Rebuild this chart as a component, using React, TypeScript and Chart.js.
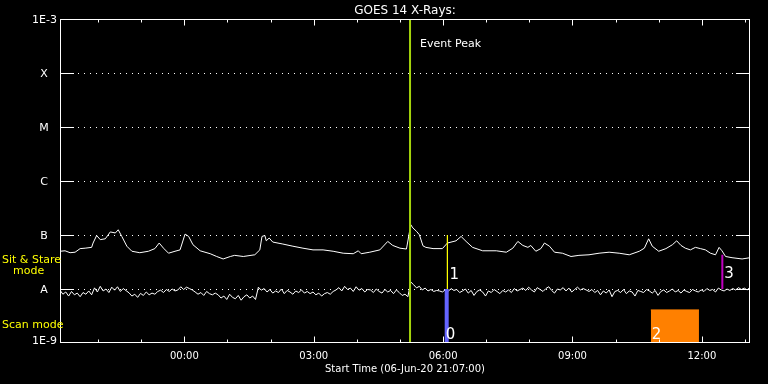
import { useEffect, useRef } from 'react';
import { Chart, registerables } from 'chart.js';

Chart.register(...registerables);

// ---------- data ----------
const TITLE = 'GOES 14 X-Rays:';
const X_AXIS_TITLE = 'Start Time (06-Jun-20 21:07:00)';
const TOTAL_MINUTES = 960; // minutes after 21:07
const MAJOR_TICK_MINUTES = [173, 353, 533, 713, 893];
const MAJOR_TICK_LABELS = ['00:00', '03:00', '06:00', '09:00', '12:00'];
const MINOR_TICK_MINUTES = [53, 113, 233, 293, 413, 473, 593, 653, 773, 833, 953];

const Y_MIN = 1e-9;
const Y_MAX = 1e-3;
const Y_EDGE_LABELS = ['1E-3', '1E-9'];
const FLARE_LEVELS = [1e-4, 1e-5, 1e-6, 1e-7, 1e-8];
const FLARE_LABELS = ['X', 'M', 'C', 'B', 'A'];

// long channel (units of 1e-7 W/m^2)
const LONG_TIMES = [0, 7, 14, 21, 28, 35, 44, 46, 51, 56, 63, 70, 77, 81, 86, 93, 100, 111, 123, 132, 138, 144, 151, 160, 167, 174, 179, 185, 195, 209, 218, 227, 237, 243, 255, 271, 278, 281, 285, 287, 291, 296, 310, 324, 338, 352, 366, 380, 394, 408, 415, 419, 431, 445, 456, 463, 473, 482, 488, 491, 496, 500, 505, 509, 519, 532, 539, 551, 558, 565, 574, 588, 607, 621, 630, 637, 644, 651, 655, 662, 669, 674, 681, 688, 699, 711, 722, 736, 750, 764, 778, 792, 806, 813, 819, 824, 833, 843, 852, 858, 864, 870, 877, 884, 891, 898, 905, 912, 917, 921, 926, 935, 949, 960];
const LONG_FLUX = [0.50, 0.51, 0.47, 0.48, 0.56, 0.57, 0.59, 0.71, 0.98, 0.82, 0.85, 1.14, 1.09, 1.25, 0.94, 0.62, 0.50, 0.47, 0.50, 0.56, 0.71, 0.57, 0.46, 0.50, 0.53, 1.04, 0.94, 0.66, 0.51, 0.45, 0.40, 0.36, 0.40, 0.42, 0.40, 0.43, 0.53, 0.94, 0.98, 0.78, 0.88, 0.74, 0.68, 0.62, 0.57, 0.53, 0.53, 0.50, 0.46, 0.45, 0.51, 0.45, 0.48, 0.53, 0.76, 0.64, 0.57, 0.55, 1.55, 1.35, 1.17, 1.01, 0.63, 0.59, 0.56, 0.56, 0.71, 0.78, 0.94, 0.76, 0.59, 0.51, 0.51, 0.48, 0.57, 0.76, 0.64, 0.59, 0.64, 0.50, 0.56, 0.71, 0.62, 0.48, 0.46, 0.40, 0.42, 0.43, 0.46, 0.48, 0.46, 0.43, 0.50, 0.57, 0.85, 0.62, 0.50, 0.56, 0.66, 0.78, 0.64, 0.57, 0.53, 0.59, 0.56, 0.53, 0.46, 0.43, 0.59, 0.51, 0.40, 0.38, 0.36, 0.38];

// short channel (units of 1e-8 W/m^2), one sample every 4 minutes
const SHORT_CADENCE_MIN = 4;
const SHORT_FLUX = [
  0.95, 0.80, 0.88, 0.74, 0.90, 0.78, 0.84, 0.72, 0.86, 0.80, 0.92, 0.78,
  1.05, 0.88, 1.12, 0.92, 1.00, 0.86, 1.08, 0.95, 1.10, 0.90, 1.02, 0.93,
  0.85, 0.74, 0.80, 0.70, 0.83, 0.76, 0.88, 0.78, 0.84, 0.80, 0.90,
  0.95, 0.86, 0.98, 0.90, 1.00, 0.92, 0.96,
  1.10, 0.98, 1.08, 1.02, 0.96,
  0.88, 0.80, 0.86, 0.76, 0.90, 0.82, 0.78, 0.84,
  0.78, 0.68, 0.74, 0.64, 0.80, 0.70, 0.66, 0.76, 0.62, 0.72, 0.78, 0.68, 0.74, 0.64,
  1.08, 0.95, 1.02, 0.88, 0.98, 0.84, 0.92, 0.86, 1.00, 0.82, 0.94, 0.88, 0.80, 0.92, 0.86, 0.96, 0.84, 0.90, 0.82, 0.88,
  0.78, 0.84, 0.74, 0.82, 0.86, 0.80, 0.90,
  0.96, 1.06, 0.92, 1.12, 0.98, 1.04, 0.90, 1.10, 0.95, 1.02, 0.88, 0.98,
  0.96, 0.86, 1.00, 0.90, 0.84, 0.98, 0.88, 0.94, 0.82, 0.96, 0.86, 0.76, 0.80,
  0.72, 1.35,
  1.20, 1.05, 1.12, 0.96, 1.04, 0.92, 0.98, 0.90, 0.94,
  0.92, 0.88, 0.96, 0.90, 1.02, 0.94, 0.98, 0.86, 0.92, 1.00, 0.84, 0.94, 0.76, 0.90,
  0.96, 0.88, 0.74, 0.92, 0.86, 0.98, 0.90, 0.82, 0.94, 0.88, 0.96, 0.86, 1.02, 0.92, 0.98,
  1.04, 0.94, 1.08, 0.96, 0.88, 1.06, 0.98, 0.90, 1.02, 1.10, 0.94, 0.84, 1.00, 0.96, 1.06, 0.92, 1.04, 0.88, 0.98, 1.08, 0.96, 1.02,
  0.96, 0.90, 0.98, 0.86, 0.94, 0.78, 0.92, 0.84, 0.96, 0.72, 0.90, 0.94, 0.86, 0.98, 0.82, 0.92, 0.88, 0.74, 0.94, 0.90,
  0.86, 0.98, 0.92, 0.84, 0.94, 0.76, 0.90, 0.96, 0.86, 0.92, 1.00, 0.88, 0.94, 0.84, 0.96, 0.90, 0.86, 0.98, 0.92, 0.88,
  0.96, 0.90, 1.02, 0.94, 0.98, 0.88, 1.04, 0.96, 0.92, 1.00, 0.94, 1.02, 0.96, 1.06, 0.98, 1.04, 0.96, 1.08,
];

// event markers
const EVENT_PEAK_MIN = 487;
const EVENT_PEAK_LABEL = 'Event Peak';
const SIT_STARE_MIN = 539; // marker "1"
const SIT_STARE_RANGE = [1e-7, 1e-8];
const SCAN0_MIN = 538; // marker "0"
const SCAN0_RANGE = [1e-8, 1e-9];
const SCAN2_START_MIN = 822; // marker "2"
const SCAN2_END_MIN = 889;
const SCAN2_TOP = 4.1e-9;
const SIT3_MIN = 921.5; // marker "3"
const SIT3_RANGE = [4.3e-8, 1e-8];
const MARKER_LABELS = ['0', '1', '2', '3'];
const MODE_LABELS = ['Sit & Stare', 'mode', 'Scan mode'];

const FONT = '"DejaVu Sans", sans-serif';

export default function App() {
  const ref = useRef<HTMLCanvasElement | null>(null);

  useEffect(() => {
    document.body.style.margin = '0';
    document.body.style.background = '#000';
    const canvas = ref.current;
    if (!canvas) return;

    const longData = LONG_TIMES.map((t, i) => ({ x: t, y: LONG_FLUX[i] * 1e-7 }));
    const shortData = SHORT_FLUX.map((v, i) => ({ x: i * SHORT_CADENCE_MIN, y: v * 1e-8 }));

    const decor = {
      id: 'goesDecor',
      beforeDraw(chart: any) {
        const c = chart.ctx;
        c.save();
        c.fillStyle = '#000';
        c.fillRect(0, 0, chart.width, chart.height);
        c.restore();
      },
      beforeDatasetsDraw(chart: any) {
        const c = chart.ctx;
        const { left, right } = chart.chartArea;
        const ys = chart.scales.y;
        c.save();
        c.strokeStyle = '#fff';
        c.lineWidth = 1;
        FLARE_LEVELS.forEach((lv) => {
          const y = Math.round(ys.getPixelForValue(lv)) + 0.5;
          c.setLineDash([]);
          c.beginPath();
          c.moveTo(left, y); c.lineTo(left + 14, y);
          c.moveTo(right - 14, y); c.lineTo(right, y);
          c.stroke();
          c.setLineDash([1, 5]);
          c.beginPath();
          c.moveTo(left + 18, y); c.lineTo(right - 14, y);
          c.stroke();
        });
        c.restore();
      },
      afterDatasetsDraw(chart: any) {
        const c = chart.ctx;
        const { left, right, top, bottom } = chart.chartArea;
        const xs = chart.scales.x;
        const ys = chart.scales.y;
        c.save();
        c.strokeStyle = '#fff';
        c.lineWidth = 1;
        c.setLineDash([]);
        const L = Math.round(left) + 0.5, R = Math.round(right) - 0.5;
        const T = Math.round(top) + 0.5, B = Math.round(bottom) - 0.5;
        c.strokeRect(L, T, R - L, B - T);
        c.beginPath();
        MINOR_TICK_MINUTES.forEach((m) => {
          const x = Math.round(xs.getPixelForValue(m)) + 0.5;
          c.moveTo(x, T); c.lineTo(x, T + 3);
          c.moveTo(x, B); c.lineTo(x, B - 3);
        });
        MAJOR_TICK_MINUTES.forEach((m) => {
          const x = Math.round(xs.getPixelForValue(m)) + 0.5;
          c.moveTo(x, T); c.lineTo(x, T + 6);
          c.moveTo(x, B); c.lineTo(x, B - 6);
        });
        c.stroke();

        c.fillStyle = '#fff';
        c.font = `10px ${FONT}`;
        c.textAlign = 'center';
        c.textBaseline = 'alphabetic';
        MAJOR_TICK_MINUTES.forEach((m, i) => {
          c.fillText(MAJOR_TICK_LABELS[i], xs.getPixelForValue(m), bottom + 16);
        });
        c.fillText(X_AXIS_TITLE, (left + right) / 2, bottom + 29);

        c.font = `11px ${FONT}`;
        c.textAlign = 'right';
        c.fillText(Y_EDGE_LABELS[0], left - 3, ys.getPixelForValue(Y_MAX) + 4);
        c.fillText(Y_EDGE_LABELS[1], left - 3, ys.getPixelForValue(Y_MIN) + 1);
        c.textAlign = 'center';
        FLARE_LEVELS.forEach((lv, i) => {
          c.fillText(FLARE_LABELS[i], left - 16, ys.getPixelForValue(lv) + 4);
        });

        c.font = `12px ${FONT}`;
        c.fillText(TITLE, (left + right) / 2, 14);

        c.font = `11px ${FONT}`;
        c.textAlign = 'left';
        c.fillText(EVENT_PEAK_LABEL, xs.getPixelForValue(EVENT_PEAK_MIN) + 10, top + 28);

        c.fillStyle = '#ffff00';
        c.fillText(MODE_LABELS[0], 2, 263);
        c.fillText(MODE_LABELS[1], 13, 274);
        c.fillText(MODE_LABELS[2], 2, 328);

        c.fillStyle = '#fff';
        c.font = `15px ${FONT}`;
        const aY = ys.getPixelForValue(1e-8);
        c.fillText(MARKER_LABELS[0], xs.getPixelForValue(SCAN0_MIN) - 1, bottom - 4);
        c.fillText(MARKER_LABELS[1], xs.getPixelForValue(SIT_STARE_MIN) + 2, aY - 10);
        c.fillText(MARKER_LABELS[2], xs.getPixelForValue(SCAN2_START_MIN) + 1, bottom - 4);
        c.fillText(MARKER_LABELS[3], xs.getPixelForValue(SIT3_MIN) + 2, aY - 11);
        c.restore();
      },
    };

    const line = (data: any[], color: string, width: number, order: number, extra: any = {}) => ({
      data,
      borderColor: color,
      backgroundColor: color,
      borderWidth: width,
      pointRadius: 0,
      tension: 0,
      fill: false,
      order,
      ...extra,
    });

    const chart = new Chart(canvas, {
      type: 'line',
      data: {
        datasets: [
          line([{ x: EVENT_PEAK_MIN, y: Y_MIN }, { x: EVENT_PEAK_MIN, y: Y_MAX }], '#a4d40c', 2, 0),
          line([{ x: SIT_STARE_MIN, y: SIT_STARE_RANGE[0] }, { x: SIT_STARE_MIN, y: SIT_STARE_RANGE[1] }], '#ffff00', 1, 0),
          line([{ x: SCAN0_MIN, y: SCAN0_RANGE[0] }, { x: SCAN0_MIN, y: SCAN0_RANGE[1] }], '#6464ff', 4, 0),
          line([{ x: SCAN2_START_MIN, y: SCAN2_TOP }, { x: SCAN2_END_MIN, y: SCAN2_TOP }], '#ff8000', 1, 0, { fill: 'start' }),
          line([{ x: SIT3_MIN, y: SIT3_RANGE[0] }, { x: SIT3_MIN, y: SIT3_RANGE[1] }], '#c000c0', 2, 0),
          line(longData, '#ffffff', 1, 1),
          line(shortData, '#ffffff', 1, 1),
        ],
      },
      options: {
        responsive: false,
        animation: false,
        events: [],
        layout: { padding: { left: 60, right: 18, top: 19, bottom: 41 } },
        plugins: { legend: { display: false }, tooltip: { enabled: false }, title: { display: false } },
        scales: {
          x: { type: 'linear', min: 0, max: TOTAL_MINUTES, display: false },
          y: { type: 'logarithmic', min: Y_MIN, max: Y_MAX, display: false },
        },
      },
      plugins: [decor],
    });
    return () => chart.destroy();
  }, []);

  return (
    <canvas ref={ref} width={768} height={384} style={{ display: 'block', width: 768, height: 384 }} />
  );
}
